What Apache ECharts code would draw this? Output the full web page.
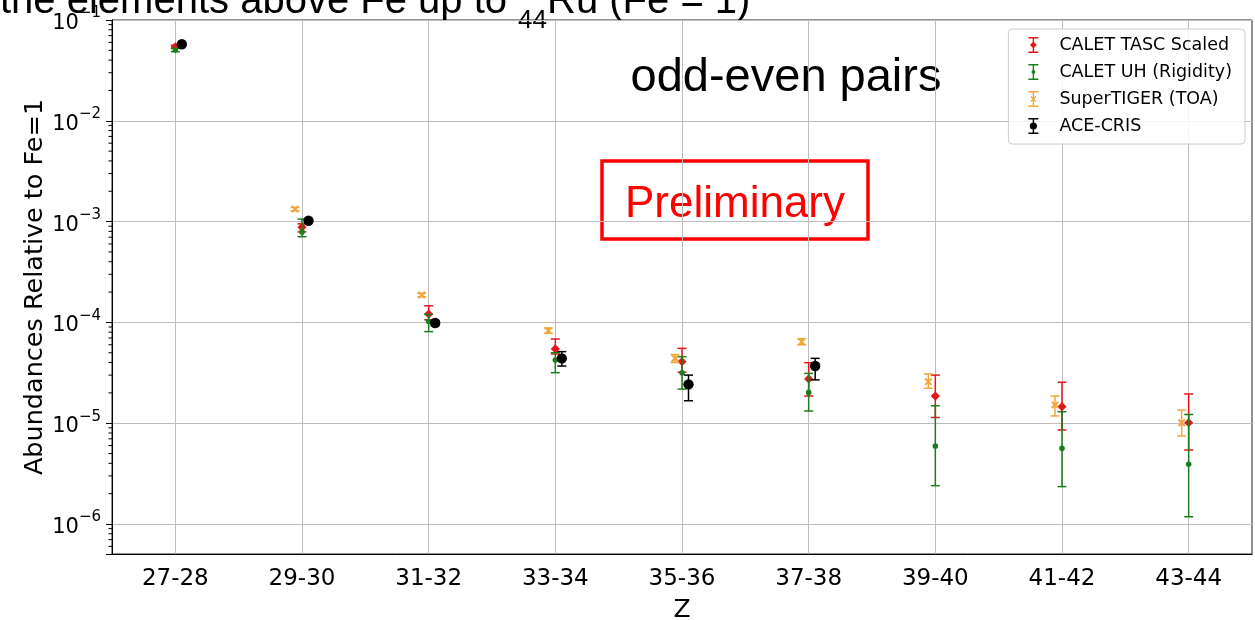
<!DOCTYPE html>
<html>
<head>
<meta charset="utf-8">
<script src="https://cdn.jsdelivr.net/npm/echarts@6/dist/echarts.min.js"></script>
<style>
  html, body { margin: 0; padding: 0; background: #ffffff; }
  #chart { width: 1255px; height: 620px; }
</style>
</head>
<body>
<div id="chart"></div>
<script>
// Element pairs (odd-even Z) on the horizontal axis
const categories = ['27-28', '29-30', '31-32', '33-34', '35-36', '37-38', '39-40', '41-42', '43-44'];

// CALET TASC (scaled): value, lower and upper error-bar ends
const tascValue = [0.0543, 8.8e-4, 1.21e-4, 5.45e-5, 4.08e-5, 2.75e-5, 1.86e-5, 1.46e-5, 1.01e-5];
const tascLow   = [0.0525, 7.9e-4, 1.06e-4, 4.86e-5, 3.2e-5, 1.86e-5, 1.14e-5, 8.57e-6, 5.42e-6];
const tascHigh  = [0.0562, 9.5e-4, 1.46e-4, 6.84e-5, 5.53e-5, 3.98e-5, 3.0e-5, 2.55e-5, 1.95e-5];

// CALET UH (rigidity)
const uhValue = [0.0503, 7.9e-4, 1.02e-4, 4.24e-5, 3.17e-5, 2.02e-5, 5.94e-6, 5.63e-6, 3.91e-6];
const uhLow   = [0.0485, 7.08e-4, 8.1e-5, 3.17e-5, 2.18e-5, 1.32e-5, 2.4e-6, 2.35e-6, 1.18e-6];
const uhHigh  = [0.0522, 1.06e-3, 1.2e-4, 5.0e-5, 4.57e-5, 3.12e-5, 1.49e-5, 1.3e-5, 1.22e-5];

// SuperTIGER (top of atmosphere)
const stValue = [null, 1.33e-3, 1.87e-4, 8.28e-5, 4.4e-5, 6.44e-5, 2.58e-5, 1.52e-5, 1.01e-5];
const stLow   = [null, 1.28e-3, 1.8e-4, 7.8e-5, 4.0e-5, 6.0e-5, 2.22e-5, 1.18e-5, 7.46e-6];
const stHigh  = [null, 1.38e-3, 1.94e-4, 8.8e-5, 4.8e-5, 6.9e-5, 3.08e-5, 1.86e-5, 1.35e-5];

// ACE-CRIS
const aceValue = [0.0574, 1.02e-3, 9.86e-5, 4.4e-5, 2.43e-5, 3.69e-5, null, null, null];
const aceLow   = [0.0562, 0.99e-3, 9.3e-5, 3.69e-5, 1.67e-5, 2.69e-5, null, null, null];
const aceHigh  = [0.0586, 1.05e-3, 1.04e-4, 5.13e-5, 3.0e-5, 4.4e-5, null, null, null];

// Log axis range
const yMin = 5.04e-7;
const yMax = 0.1;

// Minor tick positions of the log axis (2..9 x each decade inside the range)
const minorTicks = [];
for (let e = -7; e <= -2; e++) {
  for (let m = 2; m <= 9; m++) {
    const v = m * Math.pow(10, e);
    if (v > yMin && v < yMax) minorTicks.push([0, v]);
  }
}

function markerShape(kind, x, y, color) {
  if (kind === 'diamond') {
    return { type: 'polygon', shape: { points: [[x, y - 4.6], [x + 4.6, y], [x, y + 4.6], [x - 4.6, y]] }, style: { fill: color } };
  }
  if (kind === 'dot') {
    return { type: 'circle', shape: { cx: x, cy: y, r: 2.8 }, style: { fill: color } };
  }
  if (kind === 'cross') {
    return {
      type: 'group', children: [
        { type: 'line', shape: { x1: x - 3.2, y1: y - 3.2, x2: x + 3.2, y2: y + 3.2 }, style: { stroke: color, lineWidth: 2 } },
        { type: 'line', shape: { x1: x - 3.2, y1: y + 3.2, x2: x + 3.2, y2: y - 3.2 }, style: { stroke: color, lineWidth: 2 } }
      ]
    };
  }
  return { type: 'circle', shape: { cx: x, cy: y, r: 5.2 }, style: { fill: color } };
}

function errorSeries(name, values, lows, highs, look) {
  const data = [];
  values.forEach((v, i) => { if (v != null) data.push([i, v, lows[i], highs[i]]); });
  return {
    type: 'custom',
    name: name,
    data: data,
    dimensions: ['pair', 'value', 'low', 'high'],
    encode: { x: 0, y: 1 },
    itemStyle: { color: look.color },
    clip: true,
    z: look.z,
    silent: true,
    renderItem: function (params, api) {
      const i = api.value(0);
      const c = api.coord([i, api.value(1)]);
      const lo = api.coord([i, api.value(2)]);
      const hi = api.coord([i, api.value(3)]);
      const x = c[0] + look.dx;
      const w = look.cap / 2;
      const st = { stroke: look.color, lineWidth: 1.5 };
      return {
        type: 'group',
        children: [
          { type: 'line', shape: { x1: x, y1: hi[1], x2: x, y2: lo[1] }, style: st },
          { type: 'line', shape: { x1: x - w, y1: hi[1], x2: x + w, y2: hi[1] }, style: st },
          { type: 'line', shape: { x1: x - w, y1: lo[1], x2: x + w, y2: lo[1] }, style: st },
          markerShape(look.marker, x, c[1], look.color)
        ]
      };
    }
  };
}

// Legend glyphs: an error bar with caps plus the series marker
const barPath = 'M0,0H10V1.4H5.7V14.6H10V16H0V14.6H4.3V1.4H0Z';
const legendIcons = {
  tasc: 'path://' + barPath + 'M5,4.6L8.4,8L5,11.4L1.6,8Z',
  uh: 'path://' + barPath + 'M5,6.1A1.9,1.9 0 1,1 5,9.9A1.9,1.9 0 1,1 5,6.1Z',
  st: 'path://' + barPath + 'M2,5.9L2.9,5L5,7.1L7.1,5L8,5.9L5.9,8L8,10.1L7.1,11L5,8.9L2.9,11L2,10.1L4.1,8Z',
  ace: 'path://' + barPath + 'M5,4.4A3.6,3.6 0 1,1 5,11.6A3.6,3.6 0 1,1 5,4.4Z'
};

const colors = { tasc: '#e3161c', uh: '#1c7d1c', st: '#f2a73a', ace: '#000000' };

const chart = echarts.init(document.getElementById('chart'), null, { renderer: 'canvas' });

chart.setOption({
  animation: false,
  backgroundColor: '#ffffff',
  textStyle: { fontFamily: 'DejaVu Sans' },
  grid: {
    left: 112, right: 3, top: 20, bottom: 66,
    outerBoundsMode: 'none',
    show: true, borderColor: '#222222', borderWidth: 1, backgroundColor: 'transparent'
  },
  legend: {
    right: 10,
    top: 29,
    orient: 'vertical',
    selectedMode: false,
    itemWidth: 10,
    itemHeight: 16,
    itemGap: 7,
    padding: [6, 13, 8, 20],
    backgroundColor: 'rgba(255,255,255,0.85)',
    borderColor: '#cccccc',
    borderWidth: 1,
    borderRadius: 4,
    textStyle: { fontFamily: 'DejaVu Sans', fontSize: 17.5, color: '#000', lineHeight: 20, padding: [0, 0, 0, 16] },
    data: [
      { name: 'CALET TASC Scaled', icon: legendIcons.tasc },
      { name: 'CALET UH (Rigidity)', icon: legendIcons.uh },
      { name: 'SuperTIGER (TOA)', icon: legendIcons.st },
      { name: 'ACE-CRIS', icon: legendIcons.ace }
    ]
  },
  xAxis: {
    type: 'category',
    data: categories,
    boundaryGap: true,
    name: 'Z',
    nameLocation: 'middle',
    nameGap: 44,
    nameTextStyle: { fontFamily: 'DejaVu Sans', fontSize: 25, color: '#000' },
    axisLine: { lineStyle: { color: '#000', width: 1 } },
    axisTick: { alignWithLabel: true, length: 6, lineStyle: { color: '#000' } },
    axisLabel: { fontFamily: 'DejaVu Sans', fontSize: 23, color: '#000', margin: 14 },
    splitLine: { show: true, alignWithLabel: true, lineStyle: { color: '#bdbdbd', width: 1 } }
  },
  yAxis: {
    type: 'log',
    logBase: 10,
    min: yMin,
    max: yMax,
    name: 'Abundances Relative to Fe=1',
    nameLocation: 'middle',
    nameGap: 64,
    nameMoveOverlap: false,
    nameTextStyle: { fontFamily: 'DejaVu Sans', fontSize: 25.5, color: '#000' },
    axisLine: { show: true, lineStyle: { color: '#000', width: 1 } },
    axisTick: { show: true, length: 6, lineStyle: { color: '#000' } },
    splitLine: { show: true, lineStyle: { color: '#bdbdbd', width: 1 } },
    axisLabel: {
      margin: 11,
      formatter: function (v) {
        const e = Math.log10(v);
        const r = Math.round(e);
        if (Math.abs(e - r) > 1e-6) return '';
        return '{b|10}{s|\u2212' + (-r) + '}';
      },
      rich: {
        b: { fontFamily: 'DejaVu Sans', fontSize: 21, color: '#000', lineHeight: 28, verticalAlign: 'bottom' },
        s: { fontFamily: 'DejaVu Sans', fontSize: 15, color: '#000', lineHeight: 15, verticalAlign: 'top' }
      }
    }
  },
  graphic: [
    {
      type: 'text', left: 0, top: -18, silent: true,
      style: {
        text: '{n|the elements above Fe up to }{sub|44}{n|Ru (Fe = 1)}',
        rich: {
          n: { fontFamily: 'Liberation Sans', fontSize: 40, lineHeight: 40, verticalAlign: 'top', fill: '#000' },
          sub: { fontFamily: 'Liberation Sans', fontSize: 26, lineHeight: 52, verticalAlign: 'bottom', fill: '#000' }
        }
      }
    },
    {
      type: 'text', silent: true,
      style: { text: 'odd-even pairs', x: 786, y: 78, align: 'center', verticalAlign: 'middle', fontFamily: 'Liberation Sans', fontSize: 47, fill: '#000' }
    },
    {
      type: 'rect', silent: true,
      shape: { x: 602, y: 161, width: 266, height: 78 },
      style: { fill: 'transparent', stroke: '#ff0000', lineWidth: 3.5 }
    },
    {
      type: 'text', silent: true,
      style: { text: 'Preliminary', x: 735, y: 205, align: 'center', verticalAlign: 'middle', fontFamily: 'Liberation Sans', fontSize: 44, fill: '#ff0000' }
    }
  ],
  series: [
    errorSeries('CALET TASC Scaled', tascValue, tascLow, tascHigh, { color: colors.tasc, marker: 'diamond', dx: 0, cap: 9, z: 3 }),
    errorSeries('CALET UH (Rigidity)', uhValue, uhLow, uhHigh, { color: colors.uh, marker: 'dot', dx: 0, cap: 9, z: 4 }),
    errorSeries('SuperTIGER (TOA)', stValue, stLow, stHigh, { color: colors.st, marker: 'cross', dx: -7, cap: 9, z: 5 }),
    errorSeries('ACE-CRIS', aceValue, aceLow, aceHigh, { color: colors.ace, marker: 'circle', dx: 6.5, cap: 9, z: 6 }),
    {
      type: 'custom',
      data: minorTicks,
      encode: { x: 0, y: 1 },
      clip: false,
      silent: true,
      renderItem: function (params, api) {
        const p = api.coord([0, api.value(1)]);
        const x0 = params.coordSys.x;
        return { type: 'line', shape: { x1: x0 - 3.5, y1: p[1], x2: x0, y2: p[1] }, style: { stroke: '#000', lineWidth: 1 } };
      }
    }
  ]
});
</script>
</body>
</html>
